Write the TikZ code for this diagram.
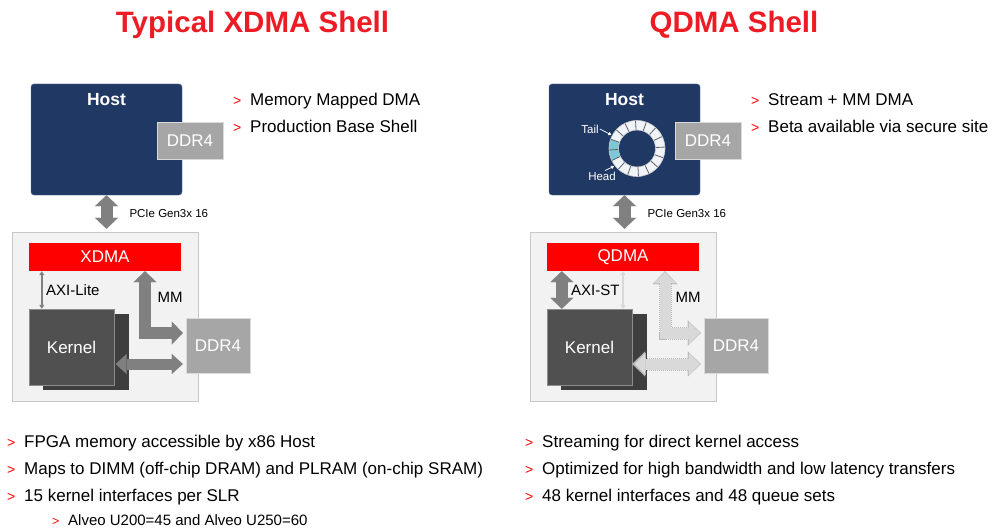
\documentclass[tikz,border=0pt]{standalone}
\usepackage{fontspec}
\setmainfont{Liberation Sans}
\usepackage{xcolor}
\usetikzlibrary{positioning,arrows.meta}

\definecolor{hostblue}{RGB}{31,56,100}
\definecolor{ddrgray}{RGB}{166,166,166}
\definecolor{arrowgray}{RGB}{128,128,128}
\definecolor{fpgabg}{RGB}{242,242,242}
\definecolor{fpgaedge}{RGB}{200,200,200}
\definecolor{kernfront}{RGB}{80,80,80}
\definecolor{kernback}{RGB}{62,62,62}
\definecolor{titlered}{RGB}{237,28,36}
\definecolor{fadegray}{RGB}{217,217,217}
\definecolor{ringfill}{RGB}{240,244,249}
\definecolor{ringhi}{RGB}{125,200,216}

\newcommand{\fsz}[1]{\fontsize{#1}{#1}\selectfont}
\newcommand{\bulmark}{\makebox[17pt][l]{\textcolor{red}{\fsz{14}>}}}
\newcommand{\subbulmark}{\makebox[16pt][l]{\textcolor{red}{\fsz{12.5}>}}}

\begin{document}
\begin{tikzpicture}[
		x=1pt, y=-1pt,
		every node/.style={inner sep=0pt},
		host/.style={fill=hostblue, draw=hostblue!75!white, rounded corners=3pt, minimum width=151pt, minimum height=111pt},
		hosttxt/.style={text=white, font=\fsz{17.5}\bfseries},
		ddr/.style={fill=ddrgray, draw=gray!30, text=white, font=\fsz{17}, minimum width=66pt, minimum height=37pt},
		fpga/.style={fill=fpgabg, draw=fpgaedge, minimum width=186pt, minimum height=169pt},
		dma/.style={fill=red, text=white, font=\fsz{17}, minimum width=152pt, minimum height=28pt},
		kernel/.style={fill=kernfront, draw=gray!90, text=white, font=\fsz{17}, minimum width=85pt, minimum height=76pt},
		kernelback/.style={fill=kernback, minimum width=86pt, minimum height=76pt},
		lbl/.style={font=\fsz{15}},
		small/.style={font=\fsz{11.5}},
		tiny/.style={text=white, font=\fsz{11.5}},
		title/.style={text=titlered, font=\fsz{29.5}\bfseries, anchor=base},
		bullet/.style={anchor=base west, font=\fsz{17}},
		subbullet/.style={anchor=base west, font=\fsz{15}},
		fatarrow/.style={draw=arrowgray, line width=12pt, shorten >=3pt,
			{Triangle[width=23pt,length=11pt,line width=0.1pt]}-{Triangle[width=23pt,length=11pt,line width=0.1pt]}},
		midarrow/.style={draw=arrowgray, line width=11pt, shorten >=3pt, shorten <=1.5pt,
			{Triangle[width=20pt,length=11pt,line width=0.1pt]}-{Triangle[width=20pt,length=11pt,line width=0.1pt]}},
		thinarrow/.style={draw=arrowgray, line width=1.5pt,
			{Triangle[width=5pt,length=4pt]}-{Triangle[width=5pt,length=4pt]}},
		faintarrow/.style={draw=fadegray, line width=1.5pt,
			{Triangle[width=5pt,length=4pt]}-{Triangle[width=5pt,length=4pt]}},
		fadeedge/.style={draw=gray!55, line width=13pt, dash pattern=on 1pt off 1pt, shorten >=3pt,
			{Triangle[width=25pt,length=13pt,line width=0.1pt]}-{Triangle[width=25pt,length=13pt,line width=0.1pt]}},
		fadefill/.style={draw=fadegray, line width=11pt, shorten >=4pt, shorten <=1pt,
			{Triangle[width=22pt,length=11pt,line width=0.1pt]}-{Triangle[width=22pt,length=11pt,line width=0.1pt]}},
		tinyarrow/.style={draw=white, line width=0.7pt, shorten >=1pt, -{Triangle[width=3.5pt,length=3pt]}},
		ringline/.style={draw=gray!75!black, line width=0.8pt},
		ringedge/.style={draw=gray!45, line width=0.6pt}
	]
	\path[use as bounding box, fill=white] (0,0) rectangle (998,532);
	
	% XDMA
	\begin{scope}
		\node[title] (ttlX) at (252.5,33) {Typical XDMA Shell};
		
		\node[host] (hostX) at (106.5,139.5) {};
		\node[hosttxt, below=9pt of hostX.north] (hostXt) {Host};
		\node[ddr] (ddrHX) at (190,140.5) {DDR4};
		
		\node[fpga] (fpgaX) at (105,316.5) {};
		\node[dma] (dmaX) at (105,257) {XDMA};
		\node[kernelback] (kernBX) at (86,352) {};
		\node[kernel] (kernFX) at (71.5,347) {Kernel};
		\node[ddr, minimum width=64pt, minimum height=55pt] (ddrFX) at (218,345.5) {DDR4};
		
		\draw[fatarrow] (hostX.south) -- (hostX.south |- fpgaX.north)
			node[small, midway, anchor=west, xshift=17pt] {PCIe Gen3x 16};
		\draw[thinarrow] ([xshift=13pt]kernFX.north west) -- ([xshift=13pt]kernFX.north west |- dmaX.south);
		\node[lbl, anchor=west] (axilX) at (46,290) {AXI-Lite};
		\draw[fatarrow] ([xshift=40pt]dmaX.south) |- ([yshift=12.5pt]ddrFX.west);
		\node[lbl] (mmX) at (170,297) {MM};
		\draw[midarrow] ([yshift=-17pt]kernFX.east) -- ([yshift=-17pt]kernFX.east -| ddrFX.west);
		
		\node[bullet] (bX1) at (233,106) {\bulmark Memory Mapped DMA};
		\node[bullet] (bX2) at (233,132) {\bulmark Production Base Shell};
		\node[bullet] (bX3) at (7,447) {\bulmark FPGA memory accessible by x86 Host};
		\node[bullet] (bX4) at (7,474) {\bulmark Maps to DIMM (off-chip DRAM) and PLRAM (on-chip SRAM)};
		\node[bullet] (bX5) at (7,501) {\bulmark 15 kernel interfaces per SLR};
		\node[subbullet] (bX6) at (52,525) {\subbulmark Alveo U200=45 and Alveo U250=60};
	\end{scope}
	
	% QDMA
	\begin{scope}[xshift=518pt]
		\node[title] (ttlQ) at (216,33) {QDMA Shell};
		
		\node[host] (hostQ) at (106.5,139.5) {};
		\node[hosttxt, below=9pt of hostQ.north] (hostQt) {Host};
		\node[ddr] (ddrHQ) at (190,140.5) {DDR4};
		
		% queue ring, drawn with y pointing up
		\coordinate (ring) at (119,148.5);
		\begin{scope}[shift={(ring)}, x=1pt, y=1pt]
			\fill[ringfill, even odd rule] (0,0) circle[radius=28] (0,0) circle[radius=18.5];
			\fill[ringhi] (160.5:28) arc[start angle=160.5, end angle=205.5, radius=28]
				-- (205.5:18.5) arc[start angle=205.5, end angle=160.5, radius=18.5] -- cycle;
			\foreach \a in {3,25.5,...,340.5}
				\draw[ringline] (\a:18.5) -- (\a:28);
			\draw[ringedge] (0,0) circle[radius=28] (0,0) circle[radius=18.5];
		\end{scope}
		\node[tiny] (tail) at (72,129) {Tail};
		\node[tiny] (head) at (84,176) {Head};
		\draw[tinyarrow] ([xshift=1pt]tail.east) -- ([shift={(152:28pt)}]ring);
		\draw[tinyarrow] ([xshift=3pt, yshift=1pt]head.north) -- ([shift={(218:28pt)}]ring);
		
		\node[fpga] (fpgaQ) at (105,316.5) {};
		\node[dma] (dmaQ) at (105,257) {QDMA};
		\node[kernelback] (kernBQ) at (86,352) {};
		\node[kernel] (kernFQ) at (71.5,347) {Kernel};
		\node[ddr, minimum width=64pt, minimum height=55pt] (ddrFQ) at (218,345.5) {DDR4};
		
		\draw[fatarrow] (hostQ.south) -- (hostQ.south |- fpgaQ.north)
			node[small, midway, anchor=west, xshift=17pt] {PCIe Gen3x 16};
		\draw[fatarrow, shorten >=0pt] ([xshift=15pt]kernFQ.north west) -- ([xshift=15pt]kernFQ.north west |- dmaQ.south);
		\node[lbl, anchor=west] (axisQ) at (53,290) {AXI-ST};
		\draw[faintarrow] (dmaQ.south) -- (dmaQ.south |- kernFQ.north);
		\draw[fadeedge] ([xshift=42pt]dmaQ.south) |- ([yshift=12.5pt]ddrFQ.west);
		\draw[fadefill] ([xshift=42pt]dmaQ.south) |- ([yshift=12.5pt]ddrFQ.west);
		\node[lbl] (mmQ) at (170,297) {MM};
		\draw[fadeedge] ([yshift=-17pt]kernFQ.east) -- ([yshift=-17pt]kernFQ.east -| ddrFQ.west);
		\draw[fadefill, shorten <=2.5pt] ([yshift=-17pt]kernFQ.east) -- ([yshift=-17pt]kernFQ.east -| ddrFQ.west);
		
		\node[bullet] (bQ1) at (233,106) {\bulmark Stream + MM DMA};
		\node[bullet] (bQ2) at (233,132) {\bulmark Beta available via secure site};
		\node[bullet] (bQ3) at (7,447) {\bulmark Streaming for direct kernel access};
		\node[bullet] (bQ4) at (7,474) {\bulmark Optimized for high bandwidth and low latency transfers};
		\node[bullet] (bQ5) at (7,501) {\bulmark 48 kernel interfaces and 48 queue sets};
	\end{scope}
	
\end{tikzpicture}
\end{document}
